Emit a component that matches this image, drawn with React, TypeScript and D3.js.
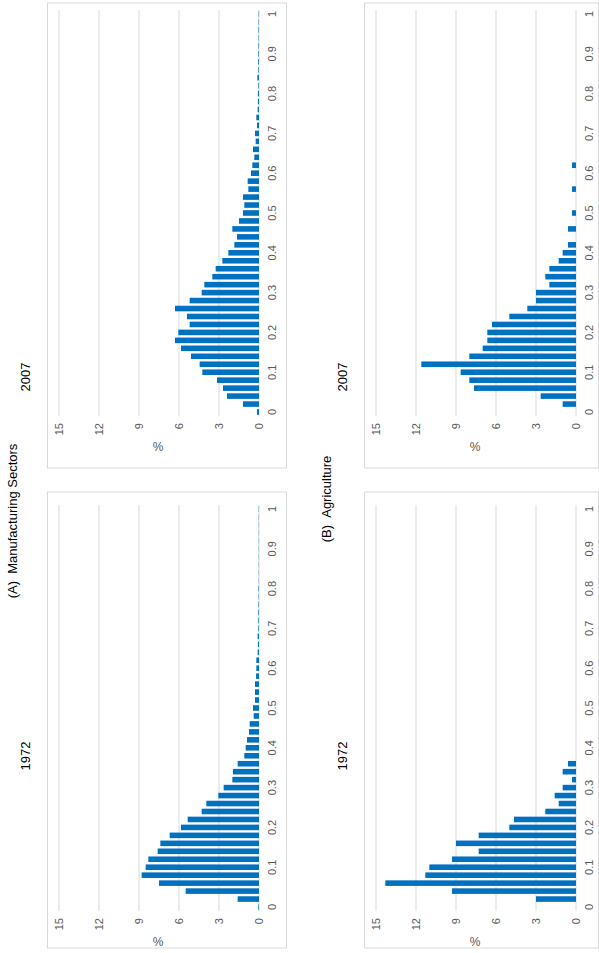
import React from 'react';
import { scaleBand, scaleLinear } from 'd3';

// bins of the distribution (category axis)
const bins = [
	'0', '0.02', '0.04', '0.06', '0.08', '0.1', '0.12', '0.14', '0.16', '0.18',
	'0.2', '0.22', '0.24', '0.26', '0.28', '0.3', '0.32', '0.34', '0.36', '0.38',
	'0.4', '0.42', '0.44', '0.46', '0.48', '0.5', '0.52', '0.54', '0.56', '0.58',
	'0.6', '0.62', '0.64', '0.66', '0.68', '0.7', '0.72', '0.74', '0.76', '0.78',
	'0.8', '0.82', '0.84', '0.86', '0.88', '0.9', '0.92', '0.94', '0.96', '0.98', '1'
];
const binLabels = ['0', '0.1', '0.2', '0.3', '0.4', '0.5', '0.6', '0.7', '0.8', '0.9', '1'];
const valueTicks = [0, 3, 6, 9, 12, 15];

// % shares
const manuf1972 = [
	0.05, 1.6, 5.5, 7.5, 8.8, 8.5, 8.3, 7.6, 7.4, 6.7,
	5.85, 5.35, 4.3, 3.95, 3.05, 2.65, 2.0, 1.95, 1.6, 1.1,
	1.0, 0.9, 0.75, 0.7, 0.4, 0.45, 0.3, 0.3, 0.3, 0.22,
	0.2, 0.2, 0.1, 0.08, 0.1, 0.05, 0.05, 0.05, 0.04, 0.03,
	0.04, 0.02, 0.02, 0.02, 0.02, 0.02, 0.02, 0.02, 0.02, 0.02, 0.02
];
const manuf2007 = [
	0.15, 1.2, 2.4, 2.7, 3.15, 4.25, 4.45, 5.1, 5.85, 6.3,
	6.05, 5.2, 5.4, 6.3, 5.2, 4.3, 4.1, 3.5, 3.25, 2.75,
	2.3, 1.85, 1.65, 2.0, 1.5, 1.2, 1.1, 1.2, 0.8, 0.85,
	0.6, 0.5, 0.35, 0.45, 0.25, 0.3, 0.15, 0.2, 0.1, 0.08,
	0.08, 0.05, 0.12, 0.05, 0.06, 0.05, 0.04, 0.03, 0.04, 0.03, 0.03
];
const agri1972 = [
	0, 3.0, 9.3, 14.3, 11.3, 11.0, 9.3, 7.3, 9.0, 7.3,
	5.0, 4.65, 2.3, 1.3, 1.6, 1.0, 0.3, 1.0, 0.6, 0,
	0, 0, 0, 0, 0, 0, 0, 0, 0, 0,
	0, 0, 0, 0, 0, 0, 0, 0, 0, 0,
	0, 0, 0, 0, 0, 0, 0, 0, 0, 0, 0
];
const agri2007 = [
	0, 1.0, 2.65, 7.65, 8.0, 8.65, 11.6, 8.0, 7.0, 6.65,
	6.65, 6.3, 5.0, 3.65, 3.0, 3.0, 2.0, 2.3, 2.0, 1.3,
	1.0, 0.6, 0, 0.6, 0, 0.3, 0, 0, 0.3, 0,
	0, 0.3, 0, 0, 0, 0, 0, 0, 0, 0,
	0, 0, 0, 0, 0, 0, 0, 0, 0, 0, 0
];

const BLUE = '#0070C0';
const GRID = '#d9d9d9';
const TICK = '#595959';
const FONT = 'Liberation Sans, Arial, sans-serif';

// drawn in the chart's own frame, then turned -90deg like the source figure
const Panel = ({ x0, yBase, boxTop, boxBottom, boxW, title, titleX, values }) => {
	const x = scaleBand().domain(bins).range([0, 406]).paddingInner(0.3).paddingOuter(0.15);
	const y = scaleLinear().domain([0, 15]).range([212, 12]);
	const center = d => x(d) + x.bandwidth() / 2;

	return (
		<g transform={`translate(${x0},${yBase}) rotate(-90)`} fontFamily={FONT}>
			<rect x={boxBottom} y={0.5} width={boxTop - boxBottom} height={boxW} fill="none" stroke={GRID} />
			{valueTicks.map(v => (
				<g key={v}>
					<line x1={0} x2={406} y1={y(v)} y2={y(v)} stroke={GRID} strokeWidth={1} />
					<text x={-7} y={y(v)} dy="0.35em" textAnchor="end" fontSize={11} fill={TICK}>{v}</text>
				</g>
			))}
			{bins.map((b, i) => (
				<rect key={b} x={x(b)} width={x.bandwidth()} y={y(values[i])}
					height={y(0) - y(values[i])} fill={BLUE} />
			))}
			{binLabels.map(l => (
				<text key={l} x={center(l)} y={229} textAnchor="middle" fontSize={11} fill={TICK}>{l}</text>
			))}
			<text transform={`translate(-31,111) rotate(90)`} dy="0.35em" textAnchor="middle" fontSize={12} fill={TICK}>%</text>
			<text x={titleX} y={-17} textAnchor="middle" fontSize={13} fill="#000">{title}</text>
		</g>
	);
};

export default function App() {
	return (
		<svg width={599} height={953} style={{ position: 'absolute', left: 0, top: 0, background: '#fff' }}>
			<Panel x0={47} yBase={416} boxTop={413} boxBottom={-52} boxW={239} title="2007" titleX={39} values={manuf2007} />
			<Panel x0={47} yBase={911} boxTop={419} boxBottom={-37} boxW={239} title="1972" titleX={155} values={manuf1972} />
			<Panel x0={364} yBase={416} boxTop={413} boxBottom={-52} boxW={234} title="2007" titleX={39} values={agri2007} />
			<Panel x0={364} yBase={911} boxTop={419} boxBottom={-37} boxW={234} title="1972" titleX={155} values={agri1972} />
			<text transform="translate(17,521) rotate(-90)" textAnchor="middle" fontFamily={FONT} fontSize={13} fill="#000">
				(A)&#160;&#160;Manufacturing Sectors
			</text>
			<text transform="translate(331,499) rotate(-90)" textAnchor="middle" fontFamily={FONT} fontSize={13} fill="#000">
				(B)&#160;&#160;Agriculture
			</text>
		</svg>
	);
}
